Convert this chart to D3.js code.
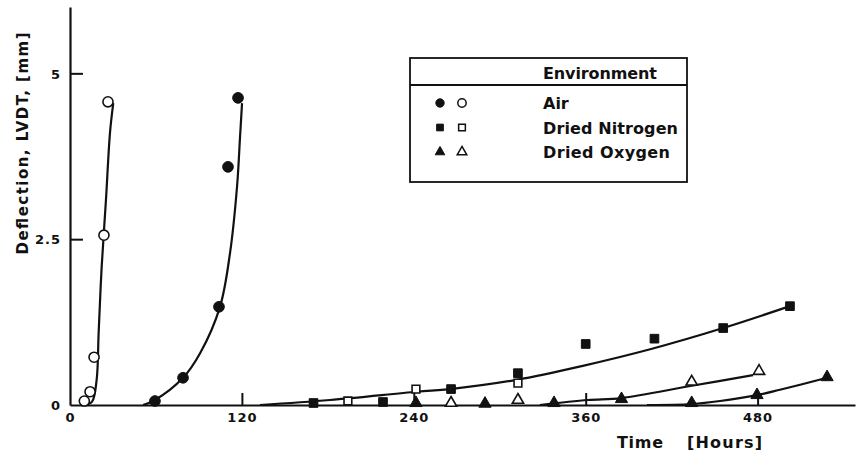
<!DOCTYPE html>
<html>
<head>
<meta charset="utf-8">
<script src="https://cdn.jsdelivr.net/npm/d3@7/dist/d3.min.js"></script>
<style>
  html, body { margin: 0; padding: 0; background: #fff; }
  svg { display: block; }
  text { font-family: "DejaVu Sans", sans-serif; font-weight: bold; fill: #111; }
</style>
</head>
<body>
<svg id="chart" width="861" height="456"></svg>
<script>
// ---------------- data ----------------
const xTicks = [0, 120, 240, 360, 480];
const yTicks = [0, 2.5, 5];
const yTickLabels = ["0", "2.5", "5"];

const legendTitle = "Environment";
const legendLabels = ["Air", "Dried Nitrogen", "Dried Oxygen"];

// Air
const airOpenHours  = [10, 14, 16.8, 23.7, 26.5];
const airOpenDefl   = [0.06, 0.2, 0.72, 2.56, 4.57];
const airFilledHours = [59.3, 78.9, 104, 110.3, 117.3];
const airFilledDefl  = [0.06, 0.41, 1.48, 3.59, 4.63];

// Dried Nitrogen
const n2FilledHours = [170, 218.5, 266, 312.7, 360, 408, 456, 502.6];
const n2FilledDefl  = [0.03, 0.045, 0.24, 0.48, 0.92, 1.0, 1.16, 1.49];
const n2OpenHours   = [194, 241.5, 312.7];
const n2OpenDefl    = [0.06, 0.24, 0.33];

// Dried Oxygen
const o2FilledHours = [241.5, 289.7, 337.9, 385, 434, 479.6, 528.5];
const o2FilledDefl  = [0.03, 0.02, 0.03, 0.09, 0.03, 0.15, 0.42];
const o2OpenHours   = [266, 312.7, 434, 481];
const o2OpenDefl    = [0.03, 0.075, 0.35, 0.51];

// fitted curves
const fitAirOpenH   = [10.5, 15.4, 18.6, 20.0, 22.1, 25.1, 27.9, 30.2];
const fitAirOpenD   = [0, 0.05, 0.38, 1.09, 2.08, 3.09, 4.10, 4.55];
const fitAirFilledH = [51.0, 59.3, 78.9, 90.8, 104.7, 111.7, 116.6, 118.7, 120.1];
const fitAirFilledD = [0, 0.075, 0.41, 0.78, 1.48, 2.29, 3.29, 4.04, 4.55];
const fitN2H        = [132.6, 181.5, 242.2, 265.3, 312, 358, 405, 456, 502.6];
const fitN2D        = [0, 0.075, 0.2, 0.24, 0.38, 0.59, 0.84, 1.16, 1.49];
const fitO2OpenH    = [328, 361.6, 385, 434, 476.8];
const fitO2OpenD    = [0, 0.075, 0.105, 0.29, 0.45];
const fitO2FilledH  = [402.8, 434, 453.8, 479.6, 495.6, 528.5];
const fitO2FilledD  = [0, 0.015, 0.06, 0.15, 0.23, 0.41];

// ---------------- chart ----------------
const svg = d3.select("#chart");
const x = d3.scaleLinear().domain([0, 548]).range([70, 855]);
const y = d3.scaleLinear().domain([0, 6]).range([405, 7]);
const ink = "#111";

// axes
const xAxis = d3.axisBottom(x).tickValues(xTicks).tickSizeInner(-12).tickSizeOuter(0).tickPadding(8).tickFormat(d3.format("d"));
const yAxis = d3.axisLeft(y).tickValues(yTicks).tickSizeInner(-13).tickSizeOuter(0).tickPadding(9).tickFormat((d, i) => yTickLabels[i]);

const gx = svg.append("g").attr("transform", `translate(0,${y(0)})`).call(xAxis);
const gy = svg.append("g").attr("transform", `translate(${x(0)},0)`).call(yAxis);
[gx, gy].forEach(g => {
  g.select(".domain").attr("stroke", ink).attr("stroke-width", 2.2);
  g.selectAll(".tick line").attr("stroke", ink).attr("stroke-width", 2);
  g.selectAll(".tick text").attr("font-family", "DejaVu Sans, sans-serif").attr("font-weight", "bold")
    .attr("font-size", 13).attr("letter-spacing", 1).attr("fill", ink);
});
gx.selectAll(".tick").filter(d => d === 0).select("line").remove();
gy.selectAll(".tick").filter(d => d === 0).select("line").remove();
gy.selectAll(".tick text").attr("dy", "0.36em");

// axis titles
svg.append("text")
  .attr("transform", `translate(23,${143.5}) rotate(-90)`)
  .attr("text-anchor", "middle").attr("dominant-baseline", "central")
  .attr("font-size", 15).attr("textLength", 222).attr("lengthAdjust", "spacing")
  .text("Deflection, LVDT, [mm]");

svg.append("text").attr("x", 617).attr("y", 448).attr("font-size", 16)
  .attr("textLength", 46).attr("lengthAdjust", "spacing").text("Time");
svg.append("text").attr("x", 687).attr("y", 448).attr("font-size", 16)
  .attr("textLength", 75).attr("lengthAdjust", "spacing").text("[Hours]");

// fitted curves
const line = d3.line().x(d => x(d[0])).y(d => y(d[1])).curve(d3.curveCatmullRom.alpha(0.5));
const fits = [
  [fitAirOpenH, fitAirOpenD], [fitAirFilledH, fitAirFilledD], [fitN2H, fitN2D],
  [fitO2OpenH, fitO2OpenD], [fitO2FilledH, fitO2FilledD]
];
fits.forEach(([hs, ds]) => {
  svg.append("path").datum(hs.map((h, i) => [h, ds[i]]))
    .attr("d", line).attr("fill", "none").attr("stroke", ink).attr("stroke-width", 2.2);
});

// markers
const symCircle = d3.symbol().type(d3.symbolCircle);
const symSquare = d3.symbol().type(d3.symbolSquare);
const symTri = d3.symbol().type(d3.symbolTriangle);

function drawPoints(hs, ds, sym, size, filled) {
  svg.append("g").selectAll("path").data(hs.map((h, i) => [h, ds[i]])).join("path")
    .attr("transform", d => `translate(${x(d[0])},${y(d[1])})`)
    .attr("d", sym.size(size)())
    .attr("fill", filled ? ink : "#fff")
    .attr("stroke", ink).attr("stroke-width", filled ? 1 : 1.6);
}
drawPoints(airOpenHours, airOpenDefl, symCircle, 80, false);
drawPoints(airFilledHours, airFilledDefl, symCircle, 90, true);
drawPoints(n2OpenHours, n2OpenDefl, symSquare, 60, false);
drawPoints(n2FilledHours, n2FilledDefl, symSquare, 75, true);
drawPoints(o2OpenHours, o2OpenDefl, symTri, 55, false);
drawPoints(o2FilledHours, o2FilledDefl, symTri, 65, true);

// legend
const lg = svg.append("g");
lg.append("rect").attr("x", 410).attr("y", 58).attr("width", 277).attr("height", 124)
  .attr("fill", "#fff").attr("stroke", ink).attr("stroke-width", 1.8);
lg.append("line").attr("x1", 410).attr("x2", 687).attr("y1", 85).attr("y2", 85)
  .attr("stroke", ink).attr("stroke-width", 1.8);
lg.append("text").attr("x", 543).attr("y", 79).attr("font-size", 16)
  .attr("textLength", 114).attr("lengthAdjust", "spacing").text(legendTitle);

const legendSyms = [symCircle, symSquare, symTri];
const legendSizes = [55, 45, 40];
const legendWidths = [null, 135, 127];
legendLabels.forEach((lab, i) => {
  const yy = 103 + i * 24.5;
  [true, false].forEach((filled, j) => {
    lg.append("path").attr("transform", `translate(${440 + j * 22},${yy})`)
      .attr("d", legendSyms[i].size(legendSizes[i])())
      .attr("fill", filled ? ink : "#fff").attr("stroke", ink).attr("stroke-width", filled ? 1 : 1.5);
  });
  const t = lg.append("text").attr("x", 543).attr("y", yy + 6).attr("font-size", 16).text(lab);
  if (legendWidths[i]) t.attr("textLength", legendWidths[i]).attr("lengthAdjust", "spacing");
});
</script>
</body>
</html>
